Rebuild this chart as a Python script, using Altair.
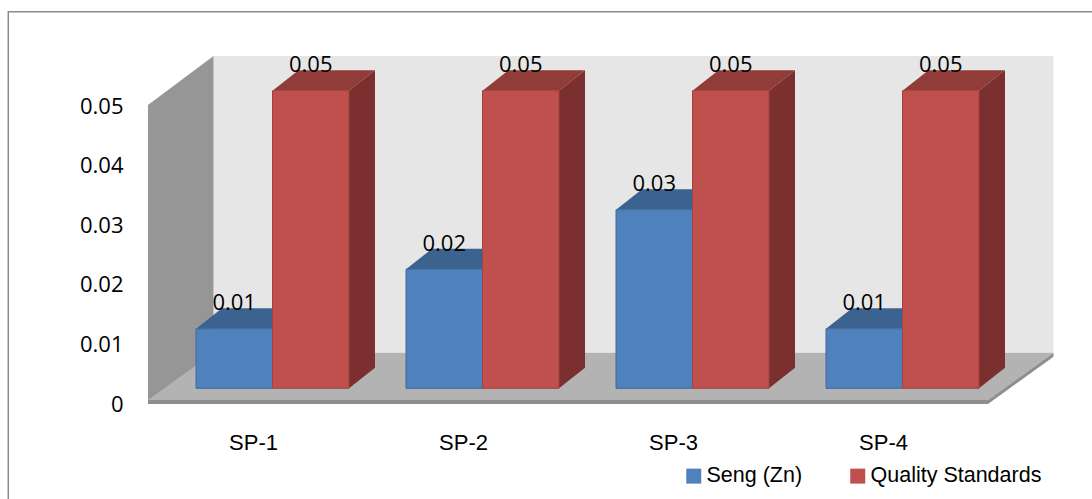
import altair as alt
import pandas as pd

# ---- chart values -------------------------------------------------------
categories = ["SP-1", "SP-2", "SP-3", "SP-4"]
series_names = ["Seng (Zn)", "Quality Standards"]
seng_zn = [0.01, 0.02, 0.03, 0.01]
quality_standards = [0.05, 0.05, 0.05, 0.05]
y_ticks = [0, 0.01, 0.02, 0.03, 0.04, 0.05]

# ---- colours ------------------------------------------------------------
front_colors = ["#4F81BD", "#C0504D"]
edge_colors = ["#3E6A9C", "#A24240"]
top_colors = ["#3C6390", "#923C3A"]
side_colors = ["#2E4D72", "#7B2F2E"]
WALL_BACK = "#E6E6E6"
WALL_LEFT = "#969696"
FLOOR_TOP = "#B3B3B3"
FLOOR_EDGE = "#8E8E8E"

VALUE_FONT = "Open Sans"
LABEL_FONT = "Liberation Sans"

# ---- pseudo-3D geometry ---------------------------------------------------
PLOT_W, PLOT_H = 905, 348
SLOT_PX = 210          # pixels per category slot
PX_PER_UNIT = 5952     # pixels per value unit


def ux(px):
    return px / SLOT_PX


def uy(px):
    return px / PX_PER_UNIT


FLOOR_DX, FLOOR_DY, FLOOR_T = ux(65.5), uy(47.3), uy(4)
WALL_FRONT_TOP = uy(299)
BAR_X0, BAR_W = ux(48), ux(76.5)
BAR_BASE = uy(15.7)
BAR_DX, BAR_DY = ux(26), uy(20.5)
N = len(categories)

# ---- tables built from the values ---------------------------------------
bars, tops, sides = [], [], []
for s, (name, vals) in enumerate(zip(series_names, [seng_zn, quality_standards])):
    for i, (cat, v) in enumerate(zip(categories, vals)):
        bid = f"{cat}-{s}"
        x0 = i + BAR_X0 + s * BAR_W
        x1 = x0 + BAR_W
        top = BAR_BASE + v
        bars.append(dict(id=bid, series=name, category=cat, value=v,
                         x0=x0, x1=x1, xc=(x0 + x1) / 2,
                         base=BAR_BASE, top=top, label_y=top + BAR_DY))
        tops.append(dict(id=bid, series=name, y=top, xa=x0, xb=x1))
        tops.append(dict(id=bid, series=name, y=top + BAR_DY,
                         xa=x0 + BAR_DX, xb=x1 + BAR_DX))
        sides.append(dict(id=bid, series=name, x=x1, lo=BAR_BASE, hi=top))
        sides.append(dict(id=bid, series=name, x=x1 + BAR_DX,
                          lo=BAR_BASE + BAR_DY, hi=top + BAR_DY))
bars = pd.DataFrame(bars)
tops = pd.DataFrame(tops)
sides = pd.DataFrame(sides)

back_wall = pd.DataFrame([dict(x0=FLOOR_DX, x1=FLOOR_DX + N,
                               y0=FLOOR_T + FLOOR_DY, y1=uy(PLOT_H))])
left_wall = pd.DataFrame([dict(x=0, lo=0, hi=WALL_FRONT_TOP),
                          dict(x=FLOOR_DX, lo=FLOOR_DY + FLOOR_T, hi=uy(PLOT_H))])
floor_top = pd.DataFrame([dict(y=FLOOR_T, xa=0, xb=N),
                          dict(y=FLOOR_T + FLOOR_DY, xa=FLOOR_DX, xb=FLOOR_DX + N)])
floor_front = pd.DataFrame([dict(x0=0, x1=N, y0=0, y1=FLOOR_T)])
floor_side = pd.DataFrame([dict(x=N, lo=0, hi=FLOOR_T),
                           dict(x=N + FLOOR_DX, lo=FLOOR_DY, hi=FLOOR_DY + FLOOR_T)])

# ---- scales and axes ----------------------------------------------------
xs = alt.Scale(domain=[0, PLOT_W / SLOT_PX], zero=False, nice=False)
ys = alt.Scale(domain=[0, uy(PLOT_H)], zero=False, nice=False)

x_axis = alt.Axis(values=[i + 0.5 for i in range(N)],
                  labelExpr="['" + "','".join(categories) + "'][floor(datum.value)]",
                  domain=False, ticks=False, grid=False,
                  labelFont=LABEL_FONT, labelFontSize=22, labelColor="black",
                  labelPadding=38, labelBaseline="middle", title=None)
y_axis = alt.Axis(values=y_ticks,
                  labelExpr="datum.value == 0 ? '0' : format(datum.value, '.2f')",
                  domain=False, ticks=False, grid=False,
                  labelFont=VALUE_FONT, labelFontSize=22, labelColor="black",
                  labelPadding=25, title=None)


def X(field):
    return alt.X(field, type="quantitative", scale=xs, axis=x_axis, stack=None)


def Y(field):
    return alt.Y(field, type="quantitative", scale=ys, axis=y_axis, stack=None)


def series_scale(colors):
    return alt.Scale(domain=series_names, range=colors)


# ---- layers -------------------------------------------------------------
frame = alt.Chart(alt.Data(values=[{"k": 1}])).mark_rect(
    fillOpacity=0, stroke="#8A8A8A", strokeWidth=1.5
).encode(x=alt.value(-139.7), x2=alt.value(960), y=alt.value(-44.3), y2=alt.value(470))

wall_back = alt.Chart(back_wall).mark_rect(color=WALL_BACK).encode(
    x=X("x0"), x2="x1", y=Y("y0"), y2="y1")
wall_left = alt.Chart(left_wall).mark_area(color=WALL_LEFT).encode(
    x=X("x"), y=Y("lo"), y2="hi")
floor_t = alt.Chart(floor_top).mark_area(color=FLOOR_TOP, orient="horizontal").encode(
    y=Y("y"), x=X("xa"), x2="xb")
floor_f = alt.Chart(floor_front).mark_rect(color=FLOOR_EDGE).encode(
    x=X("x0"), x2="x1", y=Y("y0"), y2="y1")
floor_s = alt.Chart(floor_side).mark_area(color=FLOOR_EDGE).encode(
    x=X("x"), y=Y("lo"), y2="hi")

bar_tops = alt.Chart(tops).mark_area(orient="horizontal").encode(
    y=Y("y"), x=X("xa"), x2="xb", detail="id:N",
    fill=alt.Fill("series:N", scale=series_scale(top_colors), legend=None))
bar_sides = alt.Chart(sides).mark_area().encode(
    x=X("x"), y=Y("lo"), y2="hi", detail="id:N",
    fill=alt.Fill("series:N", scale=series_scale(side_colors), legend=None))
bar_fronts = alt.Chart(bars).mark_rect(strokeWidth=1).encode(
    x=X("x0"), x2="x1", y=Y("base"), y2="top",
    fill=alt.Fill("series:N", scale=series_scale(front_colors),
                  legend=alt.Legend(orient="none", legendX=535, legendY=409,
                                    direction="horizontal", title=None,
                                    symbolType="square", symbolSize=225,
                                    symbolStrokeWidth=0,
                                    labelFont=LABEL_FONT, labelFontSize=21.5,
                                    labelColor="black", labelLimit=400,
                                    labelOffset=2, columnPadding=44)),
    stroke=alt.Stroke("series:N", scale=series_scale(edge_colors), legend=None))
value_text = alt.Chart(bars).mark_text(
    font=VALUE_FONT, fontSize=22, color="black", baseline="alphabetic",
    align="center", dy=2
).encode(x=X("xc"), y=Y("label_y"), text=alt.Text("value:Q", format=".2f"))

chart = alt.layer(
    frame, wall_back, wall_left, floor_t, floor_f, floor_s,
    bar_tops, bar_sides, bar_fronts, value_text
).resolve_scale(fill="independent", stroke="independent").properties(
    width=PLOT_W, height=PLOT_H,
    padding={"left": 148, "top": 56, "right": 39, "bottom": 95},
    autosize=alt.AutoSizeParams(type="none"),
    background="white",
).configure_view(strokeWidth=0)

chart.save("out.html", embed_options={"renderer": "svg", "actions": False})
